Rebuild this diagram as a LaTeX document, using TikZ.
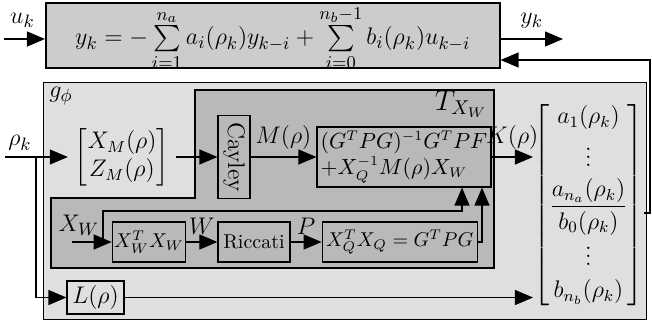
\documentclass[tikz,border=0pt]{standalone}
\usepackage{amsmath,amssymb}
\usepackage{tikz}
\usetikzlibrary{arrows.meta,positioning,calc}

\begin{document}
\begin{tikzpicture}[
  x=0.5pt, y=-0.5pt, font=\fontsize{13}{16}\selectfont,
  blk/.style={draw, semithick, inner sep=1pt, align=center},
  sml/.style={font=\fontsize{10}{12.5}\selectfont},
  arr/.style={semithick, -{Triangle[length=9pt,width=7.5pt]}},
  node distance=15.5pt
]
\useasboundingbox (0,0) rectangle (652,326);

\node[blk, thick, fill=gray!40, minimum width=227pt, minimum height=32.5pt, text height=12pt,
  text depth=2.5pt, font=\fontsize{13.1}{16}\selectfont] (sys) at (272.75,35.5)
  {$y_k = -\sum\limits_{i=1}^{n_a} a_i(\rho_k)y_{k-i} + \sum\limits_{i=0}^{n_b-1} b_i(\rho_k)u_{k-i}$};

\node[draw, semithick, fill=gray!25, anchor=north west, minimum width=301.5pt,
  minimum height=118.5pt] (gphi) at (43,82) {};
\node at (61,96) {$g_\phi$};
\draw[semithick, fill=gray!55] (195,90) -| (494,268) -| (51,198) -| cycle;
\node[font=\Large] at (461,104) {$T_{X_W}$};

\node[font=\large] (xz) at (122,157) {$\begin{bmatrix}X_M(\rho)\\Z_M(\rho)\end{bmatrix}$};
\node[blk, fill=gray!55, rotate=-90, minimum width=41.5pt, minimum height=16pt, font=\large] (cay)
  at (234,157) {Cayley};
\node[blk, fill=gray!55, minimum width=87pt, minimum height=30pt, align=left,
  font=\fontsize{10.6}{13}\selectfont] (kb) at (404,157)
  {$(G^TPG)^{-1}G^TPF$\\$+X_Q^{-1}M(\rho)X_W$};
\node[inner sep=0pt, font=\large] (vec) at (588.5,205) {$\begin{bmatrix} a_1(\rho_k)\\[2pt] \vdots\\[2pt]
  \dfrac{a_{n_a}(\rho_k)}{b_0(\rho_k)}\\[2pt] \vdots\\[2pt] b_{n_b}(\rho_k)\end{bmatrix}$};

\node[blk, sml, fill=gray!55, minimum width=36pt, minimum height=20pt] (ww) at (149,242) {$X_W^TX_W$};
\node[blk, fill=gray!55, minimum width=36pt, minimum height=20pt, right=of ww, font=\normalsize] (ric) {Riccati};
\node[blk, sml, fill=gray!55, minimum width=77.5pt, minimum height=20pt, right=of ric] (xq) {$X_Q^TX_Q = G^TPG$};
\node[blk, minimum width=28.5pt, minimum height=16.5pt] (lb) at (95.5,297.5) {$L(\rho)$};

\coordinate (uin) at (4,39);
\coordinate (yout) at (563,39);
\coordinate (fb) at (650,60);
\coordinate (rhoin) at (5,157);
\coordinate (rhobr) at (36,157);
\coordinate (xwin) at (72,242);
\coordinate (xwbr) at (103,242);
\coordinate (xwtop) at (462,211);
\coordinate (xqup) at (482,0);

\draw[arr] (uin) -- (uin -| sys.west) node[pos=0.45, above=2pt] {$u_k$};
\draw[arr] (yout -| sys.east) -- (yout) node[midway, above=2pt] {$y_k$};
\draw[arr] ([yshift=-4pt]vec.east) -| (fb) -- (fb -| sys.east);
\draw[arr] (rhoin) -- (xz.west);
\node at (20,143) {$\rho_k$};
\draw[arr] (rhobr) |- (lb.west);
\draw[arr] (xz.east) -- (cay.south);
\draw[arr] (cay.north) -- (kb.west) node[midway, above] {$M(\rho)$};
\draw[arr] (kb.east) -- (kb.east -| vec.west) node[midway, above, font=\large] {$K(\rho)$};
\draw[arr] (lb.east) -- (lb.east -| vec.west);
\draw[arr] (xwin) -- (ww.west);
\node at (79,225) {$X_W$};
\draw[arr] (xwbr) |- (xwtop) -- (xwtop |- kb.south);
\draw[arr] (ww.east) -- (ric.west) node[midway, above] {$W$};
\draw[arr] (ric.east) -- (xq.west) node[midway, above] {$P$};
\draw[arr] (xq.east) -| (xqup |- kb.south);
\end{tikzpicture}
\end{document}
